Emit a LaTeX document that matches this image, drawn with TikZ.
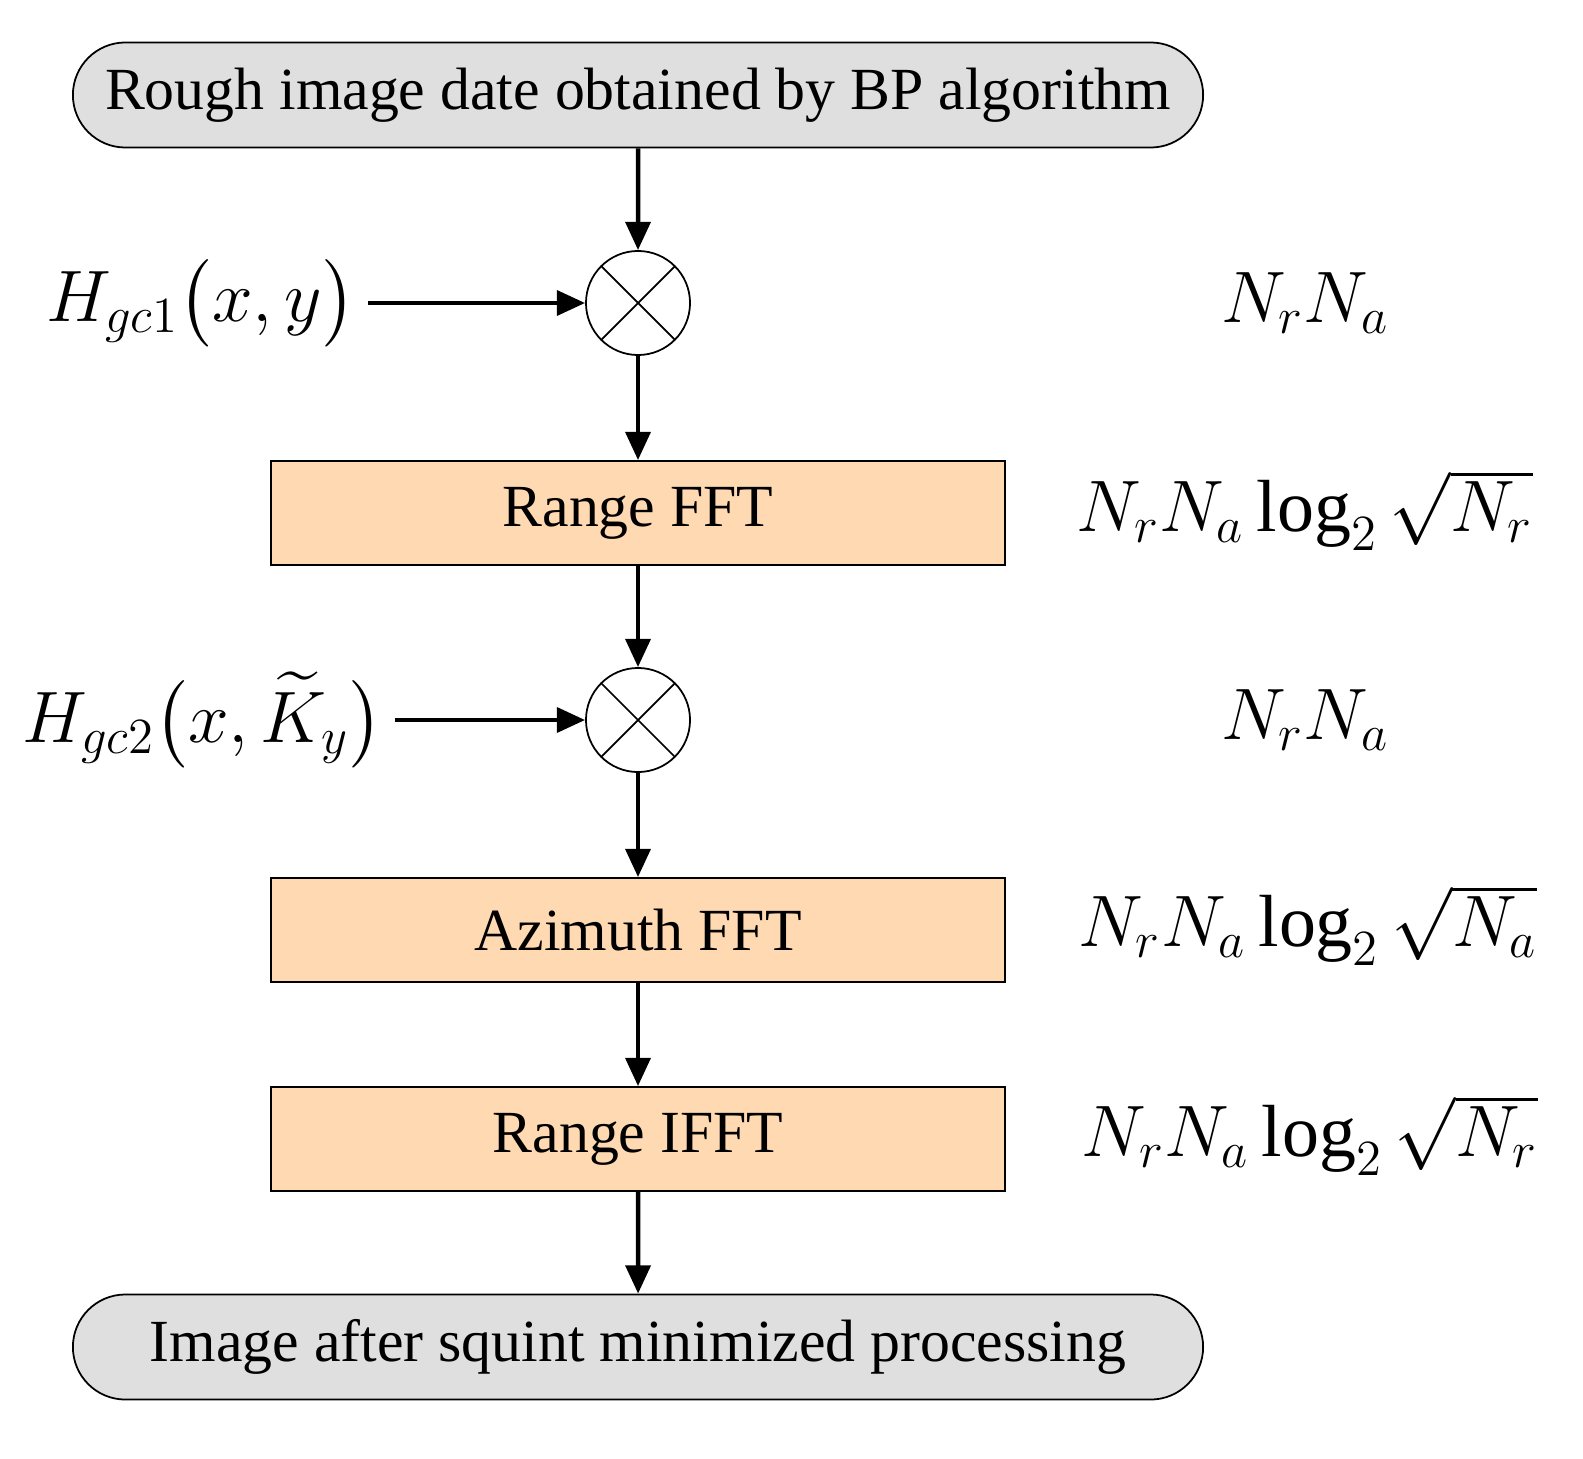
\documentclass[tikz,border=0pt]{standalone}
\usepackage{fontspec}
\usepackage{amsmath}
\setmainfont{Liberation Serif}
\usetikzlibrary{arrows.meta,shapes.misc}
\begin{document}
\begin{tikzpicture}[x=0.01cm,y=-0.01cm,
  term/.style={draw,fill=gray!25,rounded rectangle,minimum width=11.53cm,minimum height=1.05cm,font=\fontsize{17}{19}\selectfont,line width=0.5pt},
  proc/.style={draw,fill=orange!30!white,minimum width=7.34cm,minimum height=1.04cm,font=\fontsize{17}{19}\selectfont,line width=0.5pt},
  mult/.style={draw,circle,minimum size=1.04cm,inner sep=0pt,line width=0.5pt,path picture={\draw (path picture bounding box.north west)--(path picture bounding box.south east) (path picture bounding box.north east)--(path picture bounding box.south west);}},
  arr/.style={-{Triangle[length=8pt,width=7pt]},line width=1.3pt},
  lbl/.style={font=\fontsize{21}{23}\selectfont}]
\useasboundingbox (0,0) rectangle (1583,1458);
\node[term] (top) at (638,95) {Rough image date obtained by BP algorithm};
\node[mult] (m1) at (638,303) {};
\node[proc] (rf) at (638,513) {Range FFT};
\node[mult] (m2) at (638,720) {};
\node[proc] (af) at (638,930) {Azimuth FFT};
\node[proc] (ri) at (638,1139) {Range IFFT};
\node[term] (bot) at (638,1347) {Image after squint minimized processing};
\node[lbl,anchor=east] (h1) at (368,303) {$H_{gc1}\bigl(x,y\bigr)$};
\node[lbl,anchor=east] (h2) at (395,720) {$H_{gc2}\bigl(x,\widetilde{K}_y\bigr)$};
\draw[arr] (top)--(m1);
\draw[arr] (m1)--(rf);
\draw[arr] (rf)--(m2);
\draw[arr] (m2)--(af);
\draw[arr] (af)--(ri);
\draw[arr] (ri)--(bot);
\draw[arr] (h1)--(m1);
\draw[arr] (h2)--(m2);
\node[lbl] (c1) at (1305,303) {$N_rN_a$};
\node[lbl] (c2) at (1305,510) {$N_rN_a\log_2\sqrt{N_r}$};
\node[lbl] (c3) at (1305,720) {$N_rN_a$};
\node[lbl] (c4) at (1308,925) {$N_rN_a\log_2\sqrt{N_a}$};
\node[lbl] (c5) at (1310,1135) {$N_rN_a\log_2\sqrt{N_r}$};
\end{tikzpicture}
\end{document}
